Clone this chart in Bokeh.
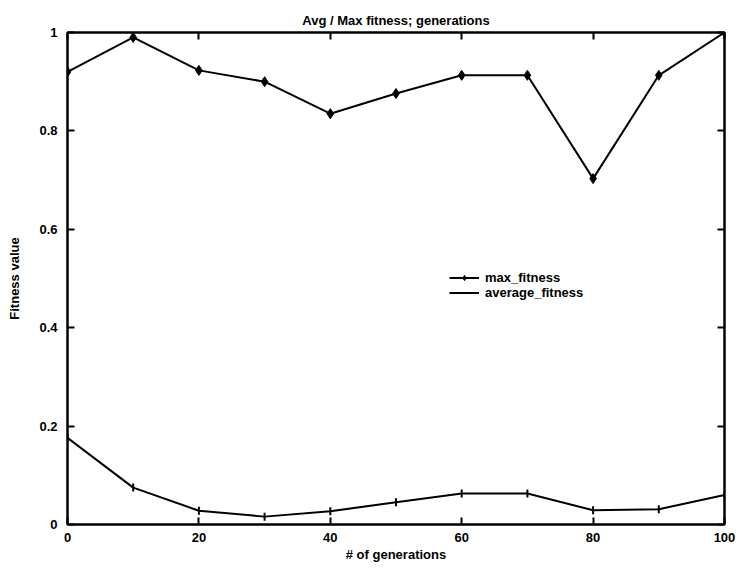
from bokeh.plotting import figure
from bokeh.models import Range1d, LinearAxis, FixedTicker, Legend, LegendItem
from bokeh.embed import file_html
from bokeh.resources import INLINE

generations = [0, 10, 20, 30, 40, 50, 60, 70, 80, 90, 100]
max_fitness = [0.92, 0.99, 0.923, 0.90, 0.835, 0.876, 0.913, 0.913, 0.703, 0.913, 1.0]
average_fitness = [0.176, 0.075, 0.028, 0.016, 0.027, 0.045, 0.063, 0.063, 0.029, 0.031, 0.060]
x_ticks = [0, 20, 40, 60, 80, 100]
y_ticks = [0, 0.2, 0.4, 0.6, 0.8, 1]
y_tick_labels = {0: "0", 0.2: "0.2", 0.4: "0.4", 0.6: "0.6", 0.8: "0.8", 1: "1"}

FONT = "Liberation Sans"
FS = "13px"

p = figure(width=750, height=568, output_backend="svg", toolbar_location=None,
           x_range=Range1d(0, 100), y_range=Range1d(0, 1),
           min_border_left=67, min_border_right=26, min_border_top=32, min_border_bottom=44)

p.title.text = "Avg / Max fitness; generations"
p.title.align = "center"
p.title.text_font = FONT
p.title.text_font_size = FS
p.title.text_font_style = "bold"
p.title.text_color = "black"
p.title.standoff = 10

p.xgrid.visible = False
p.ygrid.visible = False
p.outline_line_color = "black"
p.outline_line_width = 2
p.background_fill_color = "white"
p.border_fill_color = "white"

def style_axis(ax):
    ax.major_tick_in = 7
    ax.major_tick_out = 0
    ax.minor_tick_line_color = None
    ax.axis_line_color = "black"
    ax.axis_line_width = 2
    ax.major_tick_line_width = 2
    ax.major_tick_line_color = "black"
    ax.major_label_text_font = FONT
    ax.major_label_text_font_size = FS
    ax.major_label_text_font_style = "bold"
    ax.major_label_text_color = "black"
    ax.axis_label_text_font = FONT
    ax.axis_label_text_font_size = FS
    ax.axis_label_text_font_style = "bold"
    ax.axis_label_text_color = "black"

p.xaxis.ticker = FixedTicker(ticks=x_ticks)
p.yaxis.ticker = FixedTicker(ticks=y_ticks)
p.yaxis.major_label_overrides = y_tick_labels
p.xaxis.axis_label = "# of generations"
p.yaxis.axis_label = "Fitness value"
style_axis(p.xaxis[0])
style_axis(p.yaxis[0])
p.xaxis.axis_label_standoff = 2
p.yaxis.axis_label_standoff = 14
p.xaxis.major_label_standoff = 8
p.yaxis.major_label_standoff = 10

top = LinearAxis(ticker=FixedTicker(ticks=x_ticks))
style_axis(top)
top.major_label_overrides = {t: "" for t in x_ticks}
top.major_label_standoff = 0
p.add_layout(top, "above")
right = LinearAxis(ticker=FixedTicker(ticks=y_ticks))
style_axis(right)
right.major_label_overrides = {t: "" for t in y_ticks}
right.major_label_standoff = 0
p.add_layout(right, "right")

l1 = p.line(generations, max_fitness, line_color="black", line_width=2)
m1 = p.scatter(generations, max_fitness, marker="diamond", size=10, color="black")
l2 = p.line(generations, average_fitness, line_color="black", line_width=2)
m2 = p.scatter(generations, average_fitness, marker="dash", angle=1.5708, size=8,
               line_color="black", line_width=2)

legend = Legend(items=[LegendItem(label="max_fitness", renderers=[l1, m1]),
                       LegendItem(label="average_fitness", renderers=[l2, m2])],
                location=(382, 224), background_fill_alpha=0, border_line_color=None,
                label_text_font=FONT, label_text_font_size=FS, label_text_font_style="bold",
                label_text_color="black",
                glyph_width=30, glyph_height=13, label_height=13, spacing=0,
                padding=2, label_standoff=6)
p.add_layout(legend, "center")

open("out.html", "w").write(file_html(p, INLINE))
